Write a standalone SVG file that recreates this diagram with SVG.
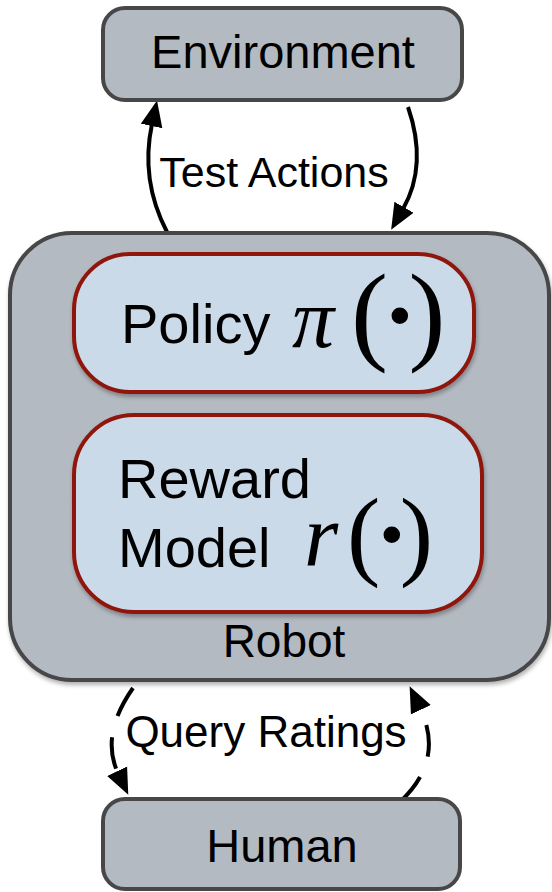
<svg xmlns="http://www.w3.org/2000/svg" width="552" height="892" viewBox="0 0 552 892">
<defs>
<style>
.gbox{fill:#b4bac2;stroke:#474747;stroke-width:4}
.ibox{fill:#cbdae9;stroke:#8e1609;stroke-width:4}
.lbl{font-family:"Liberation Sans",Arial,sans-serif;fill:#000}
.math{font-family:"Liberation Serif","Times New Roman",serif;fill:#000}
.conn{fill:none;stroke:#000;stroke-width:4}
.dash{stroke-dasharray:32 22}
</style>
<marker id="ah" markerUnits="userSpaceOnUse" markerWidth="30" markerHeight="30" viewBox="0 0 30 30" refX="2" refY="15" orient="auto">
<path d="M0,4 L26,15 L0,26 Z" fill="#000"/>
</marker>
<filter id="sh" x="-10%" y="-10%" width="120%" height="130%">
<feDropShadow dx="1" dy="3" stdDeviation="2" flood-color="#000" flood-opacity="0.3"/>
</filter>
</defs>
<g id="connectors">
<path class="conn" d="M167,232 Q140,180 152,124" marker-end="url(#ah)"/>
<path class="conn" d="M408,107 Q428,165 403,209" marker-end="url(#ah)"/>
<path class="conn dash" d="M133,688 Q100,735 118,773" marker-end="url(#ah)"/>
<path class="conn dash" d="M400,802 Q445,760 420,708" marker-end="url(#ah)"/>
</g>
<g id="environment">
<rect class="gbox" x="103" y="8" width="359" height="92" rx="22"/>
<text class="lbl" x="283" y="68" font-size="47" text-anchor="middle">Environment</text>
</g>
<g id="robot">
<rect class="gbox" x="10" y="233" width="539" height="447" rx="62" filter="url(#sh)"/>
<text class="lbl" x="284" y="657" font-size="46" text-anchor="middle">Robot</text>
</g>
<g id="policy">
<rect class="ibox" x="74" y="254" width="400" height="138" rx="56" filter="url(#sh)"/>
<text class="lbl" x="121" y="343" font-size="56">Policy</text>
<text class="math" x="292" y="347" font-size="84"><tspan font-style="italic">π</tspan><tspan x="351" y="350" font-size="111">(</tspan><tspan font-size="140" dx="-11.5" dy="12">·</tspan><tspan font-size="111" dx="-14.5" dy="-12">)</tspan></text>
</g>
<g id="reward-model">
<rect class="ibox" x="74" y="415" width="408" height="197" rx="60" filter="url(#sh)"/>
<text class="lbl" x="118" y="498" font-size="56">Reward</text>
<text class="lbl" x="118" y="567" font-size="56">Model</text>
<text class="math" x="304" y="565" font-size="88"><tspan font-style="italic">r</tspan><tspan x="347" y="567" font-size="100">(</tspan><tspan font-size="140" dx="-11.8" dy="14">·</tspan><tspan font-size="100" dx="-15.5" dy="-14">)</tspan></text>
</g>
<g id="test-actions-label">
<text class="lbl" x="274" y="187" font-size="43" text-anchor="middle">Test Actions</text>
</g>
<g id="query-ratings-label">
<text class="lbl" x="266" y="747" font-size="44" text-anchor="middle">Query Ratings</text>
</g>
<g id="human">
<rect class="gbox" x="103" y="799" width="357" height="90" rx="22"/>
<text class="lbl" x="282" y="862" font-size="47" text-anchor="middle">Human</text>
</g>
</svg>
